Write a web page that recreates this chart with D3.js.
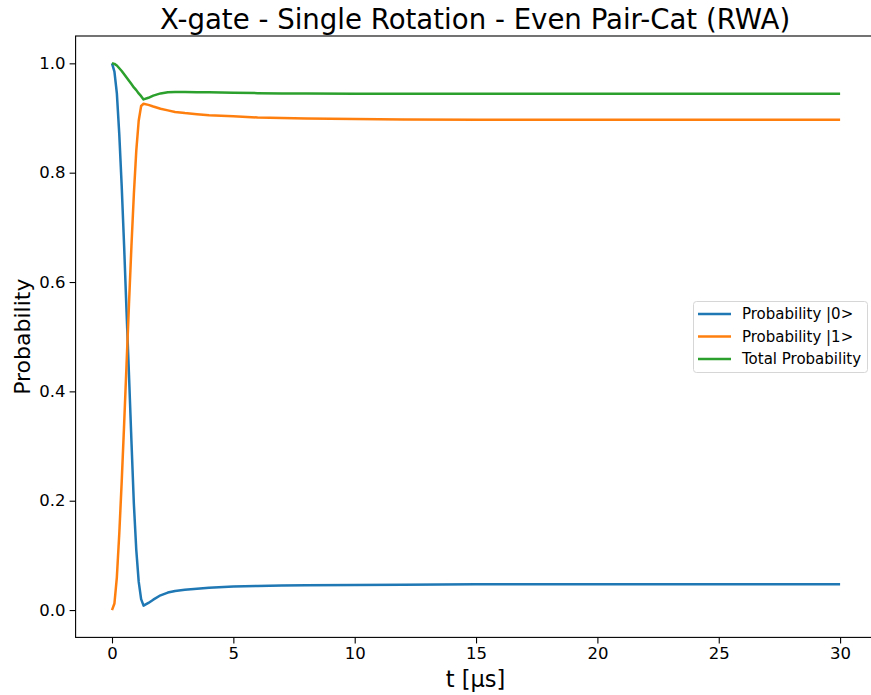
<!DOCTYPE html>
<html><head><meta charset="utf-8">
<script src="https://cdn.jsdelivr.net/npm/d3@7"></script>
<style>body{margin:0;background:#fff;overflow:hidden}svg{display:block}text{font-family:"DejaVu Sans",sans-serif}</style>
</head><body><svg id="c" width="871" height="695"></svg>
<script>
const title = "X-gate - Single Rotation - Even Pair-Cat (RWA)";
const xLabel = "t [μs]";
const yLabel = "Probability";
const seriesNames = ["Probability |0>", "Probability |1>", "Total Probability"];
const colors = ["#1f77b4", "#ff7f0e", "#2ca02c"];
const xTicks = [0, 5, 10, 15, 20, 25, 30];
const yTicks = [0.0, 0.2, 0.4, 0.6, 0.8, 1.0];
const t      = [0, 0.1, 0.2, 0.3, 0.4, 0.5, 0.6, 0.7, 0.8, 0.9, 1.0, 1.1, 1.2, 1.3, 1.5, 1.7, 2.0, 2.3, 2.6, 3.0, 3.5, 4.0, 5, 6, 7, 8, 10, 12, 15, 20, 25, 30];
const p0     = [1.0, 0.985, 0.945, 0.87, 0.775, 0.665, 0.545, 0.43, 0.31, 0.195, 0.11, 0.052, 0.02, 0.008, 0.013, 0.019, 0.027, 0.032, 0.035, 0.037, 0.039, 0.041, 0.043, 0.044, 0.045, 0.0455, 0.046, 0.0465, 0.047, 0.0472, 0.0473, 0.0474];
const p1     = [0.0, 0.012, 0.06, 0.14, 0.235, 0.34, 0.45, 0.56, 0.665, 0.76, 0.84, 0.895, 0.922, 0.926, 0.924, 0.921, 0.917, 0.914, 0.911, 0.909, 0.907, 0.905, 0.903, 0.901, 0.900, 0.899, 0.898, 0.8975, 0.897, 0.897, 0.897, 0.897];
const ptot   = [1.0, 0.999, 0.996, 0.991, 0.986, 0.980, 0.974, 0.968, 0.962, 0.956, 0.951, 0.945, 0.940, 0.934, 0.937, 0.941, 0.945, 0.947, 0.9475, 0.9475, 0.947, 0.947, 0.946, 0.9455, 0.945, 0.9448, 0.9445, 0.9443, 0.9443, 0.9444, 0.9445, 0.9445];

const svg = d3.select("#c");
const L = 75.6, R = 876.5, T = 36, B = 637.4;
const x = d3.scaleLinear().domain([-1.5, 31.5]).range([L, R]);
const y = d3.scaleLinear().domain([-0.05, 1.05]).range([B, T]);

const series = [p0, p1, ptot];
const line = d3.line().x((d, i) => x(t[i])).y(d => y(d));
const g = svg.append("g");
series.forEach((s, k) => {
  g.append("path").datum(s).attr("d", line).attr("fill", "none")
    .attr("stroke", colors[k]).attr("stroke-width", 2.5).attr("stroke-linejoin", "round");
});

// axes
const xa = svg.append("g").attr("transform", `translate(0,${B})`)
  .call(d3.axisBottom(x).tickValues(xTicks).tickFormat(d3.format("d")).tickSize(6).tickPadding(4));
const ya = svg.append("g").attr("transform", `translate(${L},0)`)
  .call(d3.axisLeft(y).tickValues(yTicks).tickFormat(d3.format(".1f")).tickSize(6).tickPadding(4));
[xa, ya].forEach(a => {
  a.select(".domain").remove();
  a.selectAll("line").attr("stroke", "#000").attr("stroke-width", 1.1);
  a.selectAll("text").attr("fill", "#000").style("font-size", "16.5px").style("font-family", "DejaVu Sans");
});
svg.append("rect").attr("x", L).attr("y", T).attr("width", R - L).attr("height", B - T)
  .attr("fill", "none").attr("stroke", "#000").attr("stroke-width", 1.1);

svg.append("text").attr("x", (L + R) / 2 - 1).attr("y", 29).attr("text-anchor", "middle")
  .style("font-size", "27.6px").text(title);
svg.append("text").attr("x", (L + R) / 2 - 0.5).attr("y", 687).attr("text-anchor", "middle")
  .style("font-size", "22.5px").text(xLabel);
svg.append("text").attr("transform", `translate(29.5,${(T + B) / 2}) rotate(-90)`).attr("text-anchor", "middle")
  .style("font-size", "22px").text(yLabel);

// legend
const lg = svg.append("g");
lg.append("rect").attr("x", 693.5).attr("y", 301.5).attr("width", 174).attr("height", 71).attr("rx", 3)
  .attr("fill", "#fff").attr("fill-opacity", 0.8).attr("stroke", "#d6d6d6").attr("stroke-width", 1);
seriesNames.forEach((n, k) => {
  const yy = 314 + k * 22.5;
  lg.append("line").attr("x1", 698).attr("x2", 731).attr("y1", yy).attr("y2", yy)
    .attr("stroke", colors[k]).attr("stroke-width", 2.5);
  lg.append("text").attr("x", 742).attr("y", yy + 5.2).style("font-size", "15px").text(n);
});
</script></body></html>
